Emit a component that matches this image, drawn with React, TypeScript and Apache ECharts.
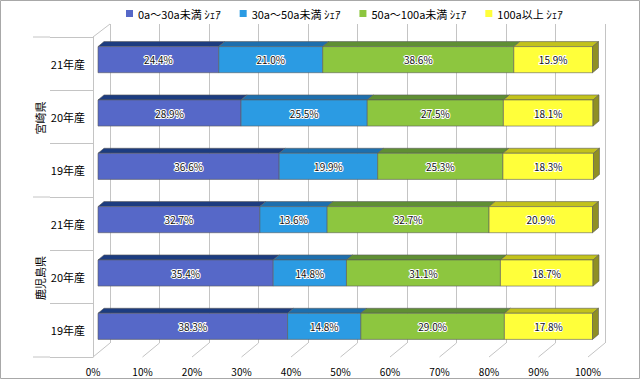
import React, { useEffect, useRef } from 'react';
import * as echarts from 'echarts';

const prefectures = ['宮崎県', '鹿児島県'];
const years = ['21年産', '20年産', '19年産'];
const seriesNames = ['0a～30a未満 ｼｪｱ', '30a～50a未満 ｼｪｱ', '50a～100a未満 ｼｪｱ', '100a以上 ｼｪｱ'];
// rows top → bottom: 宮崎県 21,20,19 then 鹿児島県 21,20,19
const share0to30 = [24.4, 28.9, 36.6, 32.7, 35.4, 38.3];
const share30to50 = [21.0, 25.5, 19.9, 13.6, 14.8, 14.8];
const share50to100 = [38.6, 27.5, 25.3, 32.7, 31.1, 29.0];
const share100plus = [15.9, 18.1, 18.3, 20.9, 18.7, 17.8];
const xTicks = [0, 10, 20, 30, 40, 50, 60, 70, 80, 90, 100];

const frontColors = ['#5668c8', '#2b9be3', '#8dc63f', '#ffff3a'];
const topColors = ['#1c3c80', '#1d6fae', '#5f8f33', '#c2c21c'];
const sideColor = '#8f8f24';
const FONT = '"Noto Sans CJK JP", "Noto Sans", sans-serif';

export default function App() {
  const ref = useRef<HTMLDivElement>(null);
  useEffect(() => {
    if (!ref.current) return;
    const chart = echarts.init(ref.current, undefined, { renderer: 'svg' });
    const categories: string[] = [];
    prefectures.forEach((p) => years.forEach((y) => categories.push(p + ' ' + y)));
    const allShares = [share0to30, share30to50, share50to100, share100plus];

    const segSeries = allShares.map((arr, k) => {
      const data = arr.map((v, row) => {
        let start = 0;
        for (let j = 0; j < k; j++) start += allShares[j][row];
        return [row, start, start + v, v];
      });
      const isLast = k === allShares.length - 1;
      return {
        type: 'custom',
        name: seriesNames[k],
        xAxisIndex: 0,
        yAxisIndex: 0,
        itemStyle: { color: frontColors[k] },
        encode: { x: [1, 2], y: 0 },
        z: 5,
        data,
        renderItem: (params: any, api: any) => {
          const row = api.value(0);
          const s = api.value(1);
          const e = api.value(2);
          const v = api.value(3);
          const p0 = api.coord([s, row]);
          const p1 = api.coord([e, row]);
          const band = api.size([0, 1])[1];
          const h = band * 0.49;
          const x0 = p0[0] + 5;
          const x1 = p1[0] + 5;
          const yc = p0[1] - 4;
          const yt = yc - h / 2;
          const yb = yc + h / 2;
          const ddx = 6;
          const ddy = -5;
          const stroke = '#5a5a5a';
          const children: any[] = [
            {
              type: 'polygon',
              shape: { points: [[x0, yt], [x1, yt], [x1 + ddx, yt + ddy], [x0 + ddx, yt + ddy]] },
              style: { fill: topColors[k], stroke, lineWidth: 0.6 },
            },
            {
              type: 'rect',
              shape: { x: x0, y: yt, width: x1 - x0, height: h },
              style: { fill: frontColors[k], stroke, lineWidth: 0.6 },
            },
          ];
          if (isLast) {
            children.push({
              type: 'polygon',
              shape: { points: [[x1, yt], [x1 + ddx, yt + ddy], [x1 + ddx, yb + ddy], [x1, yb]] },
              style: { fill: sideColor, stroke, lineWidth: 0.6 },
            });
          }
          children.push({
            type: 'text',
            x: (x0 + x1) / 2,
            y: yc,
            style: {
              text: v.toFixed(1) + '%',
              fontSize: 10,
              fontFamily: FONT,
              fill: '#111',
              stroke: '#ffffff',
              lineWidth: 2,
              align: 'center',
              verticalAlign: 'middle',
            },
          });
          return { type: 'group', children };
        },
      };
    });

    const floorSeries = {
      type: 'custom',
      name: 'floor',
      xAxisIndex: 0,
      yAxisIndex: 0,
      z: 1,
      silent: true,
      data: xTicks.map((t, i) => [t, i]),
      encode: { x: 0 },
      renderItem: (params: any, api: any) => {
        const cs = params.coordSys;
        const x = api.coord([api.value(0), 0])[0];
        const yb = cs.y + cs.height;
        const children: any[] = [
          {
            type: 'line',
            shape: { x1: x, y1: yb, x2: x + 17, y2: yb - 14 },
            style: { stroke: '#c4c4c4', lineWidth: 1 },
          },
        ];
        if (api.value(1) === 0) {
          children.push({
            type: 'line',
            shape: { x1: x, y1: cs.y, x2: x + 17, y2: cs.y - 13 },
            style: { stroke: '#c4c4c4', lineWidth: 1 },
          });
        }
        return { type: 'group', children };
      },
    };

    chart.setOption({
      animation: false,
      backgroundColor: '#ffffff',
      textStyle: { fontFamily: FONT },
      legend: {
        top: 3,
        left: 121,
        itemWidth: 7,
        itemHeight: 7,
        itemGap: 19,
        icon: 'rect',
        data: seriesNames,
        textStyle: { fontSize: 11, color: '#000', fontFamily: FONT },
      },
      grid: [
        { left: 93, right: 52, top: 37, bottom: 22 },
        { left: 110, right: 35, top: 24, bottom: 36 },
      ],
      xAxis: [
        {
          type: 'value',
          gridIndex: 0,
          min: 0,
          max: 100,
          interval: 10,
          axisLine: { show: false },
          axisTick: { show: false },
          splitLine: { show: false },
          axisLabel: { formatter: '{value}%', fontSize: 10, color: '#000', margin: 9, fontFamily: FONT },
        },
        {
          type: 'value',
          gridIndex: 1,
          min: 0,
          max: 100,
          interval: 10,
          axisLine: { show: false },
          axisTick: { show: false },
          axisLabel: { show: false },
          splitLine: { show: true, lineStyle: { color: '#c4c4c4', width: 1 } },
        },
      ],
      yAxis: [
        {
          type: 'category',
          gridIndex: 0,
          inverse: true,
          data: categories,
          axisLine: { show: true, lineStyle: { color: '#c4c4c4' } },
          axisTick: { show: true, length: 43, lineStyle: { color: '#c4c4c4' } },
          axisLabel: {
            fontSize: 11,
            color: '#000',
            margin: 8,
            fontFamily: FONT,
            formatter: (val: string) => val.split(' ')[1],
          },
          splitLine: { show: false },
        },
        {
          type: 'category',
          gridIndex: 1,
          show: false,
          data: categories,
        },
      ],
      graphic: [
        {
          type: 'rect',
          shape: { x: 0.5, y: 0.5, width: 639, height: 378 },
          style: { fill: 'none', stroke: '#a8a8a8', lineWidth: 1 },
          z: 100,
        },
        { type: 'line', shape: { x1: 33, y1: 37, x2: 50, y2: 37 }, style: { stroke: '#c4c4c4' } },
        { type: 'line', shape: { x1: 33, y1: 197, x2: 50, y2: 197 }, style: { stroke: '#c4c4c4' } },
        { type: 'line', shape: { x1: 33, y1: 357, x2: 50, y2: 357 }, style: { stroke: '#c4c4c4' } },
        {
          type: 'text',
          x: 40,
          y: 118,
          rotation: Math.PI / 2,
          style: { text: prefectures[0], fontSize: 11, fontFamily: FONT, fill: '#000', align: 'center', verticalAlign: 'middle' },
        },
        {
          type: 'text',
          x: 40,
          y: 278,
          rotation: Math.PI / 2,
          style: { text: prefectures[1], fontSize: 11, fontFamily: FONT, fill: '#000', align: 'center', verticalAlign: 'middle' },
        },
      ],
      series: [floorSeries, ...segSeries],
    });
    return () => chart.dispose();
  }, []);
  return <div ref={ref} style={{ position: 'absolute', left: 0, top: 0, width: 640, height: 379 }} />;
}
